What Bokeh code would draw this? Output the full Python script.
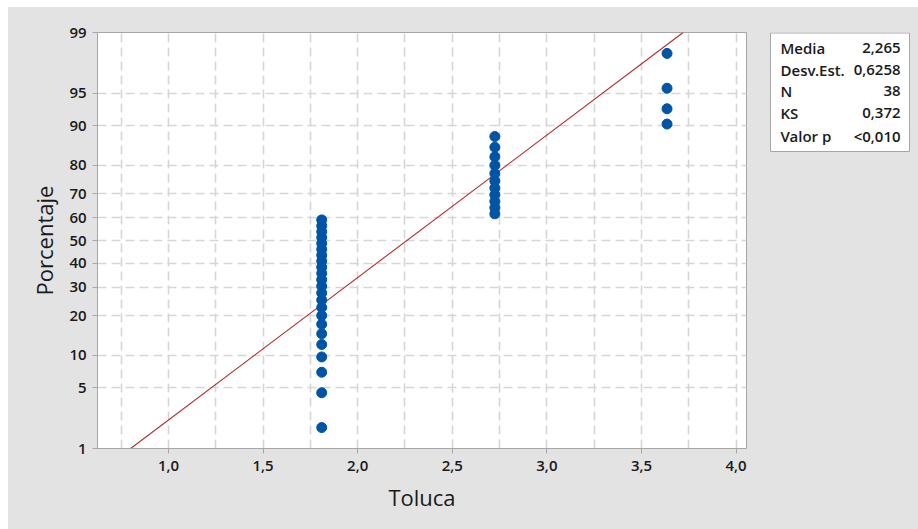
from statistics import NormalDist
from bokeh.plotting import figure
from bokeh.layouts import row, column
from bokeh.models import Range1d, FixedTicker, SingleIntervalTicker, CustomJSTickFormatter, ColumnDataSource, Spacer
from bokeh.core.properties import value
from bokeh.embed import file_html
from bokeh.resources import INLINE

# ---- data ----
toluca_levels = [1.81, 2.725, 3.635]
pct_level1 = [1.82, 4.43, 7.03, 9.64, 12.24, 14.84, 17.45, 20.05, 22.66, 25.26, 27.86, 30.47,
              33.07, 35.68, 38.28, 40.89, 43.49, 46.09, 48.70, 51.30, 53.91, 56.51, 59.11]
pct_level2 = [61.72, 64.32, 66.93, 69.53, 72.14, 74.74, 77.34, 79.95, 82.55, 85.16, 87.76]
pct_level3 = [90.36, 92.97, 95.57, 98.18]

fit_x = [0.80, 3.72]
fit_pct = [1, 99]

y_tick_pct = [1, 5, 10, 20, 30, 40, 50, 60, 70, 80, 90, 95, 99]
y_tick_labels = ["1", "5", "10", "20", "30", "40", "50", "60", "70", "80", "90", "95", "99"]

stat_names = ["Media", "Desv.Est.", "N", "KS", "Valor p"]
stat_values = ["2,265", "0,6258", "38", "0,372", "<0,010"]

FONT = "Open Sans"
FONT_SB = "Open Sans SemiBold, Open Sans"
BG = "#e3e3e3"
TXT = "#1a1a1a"
ND = NormalDist()

def probit(p):
    return ND.inv_cdf(p / 100.0)

xs, ys = [], []
for lvl, pcts in zip(toluca_levels, [pct_level1, pct_level2, pct_level3]):
    for pc in pcts:
        xs.append(lvl)
        ys.append(probit(pc))
src = ColumnDataSource(dict(x=xs, y=ys))

y_ticks = [probit(v) for v in y_tick_pct]

H = 522
TOP, BOTTOM = 25, 81
p = figure(width=752, height=H, output_backend="svg", toolbar_location=None,
           x_range=Range1d(0.625, 4.055), y_range=Range1d(y_ticks[0], y_ticks[-1]),
           min_border_left=89, min_border_right=14, min_border_top=TOP, min_border_bottom=BOTTOM)
p.background_fill_color = "white"
p.border_fill_color = BG
p.outline_line_color = "#a6a6a6"
p.outline_line_width = 1

# grids
p.xgrid.ticker = SingleIntervalTicker(interval=0.25)
p.ygrid.ticker = FixedTicker(ticks=y_ticks)
for g in (p.xgrid, p.ygrid):
    g.grid_line_color = "#d6d6d6"
    g.grid_line_width = 1.6
    g.grid_line_dash = "9 5"

# axes
p.xaxis.ticker = SingleIntervalTicker(interval=0.5)
p.xaxis.formatter = CustomJSTickFormatter(code="return tick.toFixed(1).replace('.', ',');")
p.yaxis.ticker = FixedTicker(ticks=y_ticks)
p.yaxis.major_label_overrides = {t: lab for t, lab in zip(y_ticks, y_tick_labels)}
for ax in (p.xaxis, p.yaxis):
    ax.axis_line_color = "#a6a6a6"
    ax.major_tick_line_color = "#a6a6a6"
    ax.major_tick_out = 5
    ax.major_tick_in = 0
    ax.minor_tick_line_color = None
    ax.major_label_text_font = FONT_SB
    ax.major_label_text_font_size = "15px"
    ax.major_label_text_color = TXT
    ax.axis_label_text_font = FONT
    ax.axis_label_text_font_size = "22px"
    ax.axis_label_text_font_style = "normal"
    ax.axis_label_text_color = TXT
p.xaxis.axis_label = "Toluca"
p.yaxis.axis_label = "Porcentaje"
p.xaxis.major_label_standoff = 7
p.yaxis.major_label_standoff = 6
p.xaxis.axis_label_standoff = 8
p.yaxis.axis_label_standoff = 7

# fitted line and points
p.line(fit_x, [probit(v) for v in fit_pct], line_color="#b22a2a", line_width=1.1)
p.scatter("x", "y", source=src, size=10, marker="circle",
          fill_color="#0054a6", line_color="#0054a6")

# stats panel (its frame is aligned with the main frame; y range in page pixels)
s = figure(width=158, height=H, output_backend="svg", toolbar_location=None,
           x_range=Range1d(0, 158), y_range=Range1d(448, 32),
           min_border_left=0, min_border_right=0, min_border_top=TOP, min_border_bottom=BOTTOM)
s.axis.visible = False
s.grid.visible = False
s.outline_line_color = None
s.background_fill_color = BG
s.border_fill_color = BG
s.quad(left=[10], right=[149], top=[32.5], bottom=[151],
       fill_color="white", line_color="#a6a6a6", line_width=1)
row_y = [47, 69, 90, 112, 135]
s.text(x=[20] * len(stat_names), y=row_y, text=stat_names,
       text_font=value(FONT_SB), text_font_size="15px", text_color=TXT,
       text_align="left", text_baseline="middle")
s.text(x=[140] * len(stat_values), y=row_y, text=stat_values,
       text_font=value(FONT_SB), text_font_size="15px", text_color=TXT,
       text_align="right", text_baseline="middle")

inner = row(p, s, spacing=0, styles={"background-color": BG})
layout = column(Spacer(height=7, width=918),
                row(Spacer(width=8, height=H), inner, spacing=0),
                spacing=0)
open("out.html", "w").write(file_html(layout, INLINE))
